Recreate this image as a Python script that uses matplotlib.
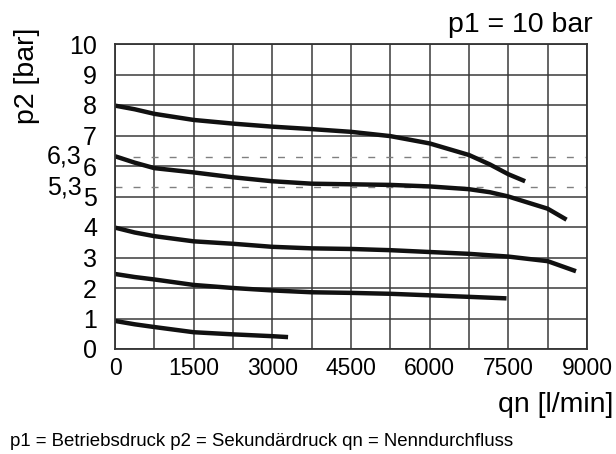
import matplotlib
matplotlib.use("Agg")
import matplotlib.pyplot as plt
from matplotlib import font_manager as fm

# Data: qn in l/min, p2 in bar
qn_8 = [0, 375, 750, 1500, 2250, 3000, 3750, 4500, 5250, 6000, 6750, 7150, 7500, 7820]
p_8 = [7.98, 7.86, 7.71, 7.51, 7.39, 7.29, 7.21, 7.12, 6.98, 6.74, 6.36, 6.05, 5.73, 5.5]

qn_63 = [0, 375, 750, 1500, 2250, 3000, 3750, 4500, 5250, 6000, 6750, 7150, 7500, 8250, 8610]
p_63 = [6.32, 6.11, 5.93, 5.79, 5.63, 5.5, 5.42, 5.4, 5.38, 5.33, 5.24, 5.14, 5.0, 4.6, 4.24]

qn_4 = [0, 375, 750, 1500, 2250, 3000, 3750, 4500, 5250, 6000, 6750, 7500, 8250, 8790]
p_4 = [3.98, 3.82, 3.7, 3.53, 3.45, 3.35, 3.3, 3.28, 3.24, 3.18, 3.12, 3.03, 2.88, 2.55]

qn_25 = [0, 375, 750, 1500, 2250, 3000, 3750, 4500, 5250, 6000, 6750, 7465]
p_25 = [2.46, 2.36, 2.28, 2.1, 2.0, 1.92, 1.86, 1.84, 1.81, 1.76, 1.71, 1.66]

qn_1 = [0, 375, 750, 1500, 2250, 3000, 3300]
p_1 = [0.92, 0.81, 0.72, 0.55, 0.48, 0.42, 0.39]

ref_levels = [6.3, 5.3]
ref_labels = ["6,3", "5,3"]

x_ticks = [0, 1500, 3000, 4500, 6000, 7500, 9000]
y_ticks = [0, 1, 2, 3, 4, 5, 6, 7, 8, 9, 10]

names = {f.name for f in fm.fontManager.ttflist}
regular = "Liberation Sans" if "Liberation Sans" in names else "DejaVu Sans"
plt.rcParams['font.family'] = [regular, 'DejaVu Sans']

fig = plt.figure(figsize=(6.16, 4.54), dpi=100)
ax = fig.add_axes([115/616, 1-349/454, 472/616, 305/454])

ax.set_xlim(0, 9000)
ax.set_ylim(0, 10)
ax.grid(True, color='#3a3a3a', linewidth=1.1)
ax.set_axisbelow(True)
for s in ax.spines.values():
    s.set_color('#333333')
    s.set_linewidth(1.3)
ax.tick_params(length=0)

ax.set_yticks(y_ticks)
ax.set_yticklabels([str(v) for v in y_ticks], fontsize=18)
ax.tick_params(axis='y', pad=13)

# grid every 750, labels every 1500
grid_x = [i * 750 for i in range(13)]
ax.set_xticks(grid_x)
ax.set_xticklabels([str(v) if v in x_ticks else "" for v in grid_x], fontsize=16.5)
ax.tick_params(axis='x', pad=6)

for lvl in ref_levels:
    ax.axhline(lvl, color='#808080', linewidth=1.0, linestyle=(0, (5, 8)), xmax=0.995)

for q, p in [(qn_8, p_8), (qn_63, p_63), (qn_4, p_4), (qn_25, p_25), (qn_1, p_1)]:
    ax.plot(q, p, color='#111111', linewidth=3.2, solid_capstyle='butt',
            solid_joinstyle='round')

for lvl, lab in zip(ref_levels, ref_labels):
    ax.annotate(lab, xy=(0, lvl), xycoords=('figure pixels', 'data'),
                xytext=(82, 0), textcoords=('figure pixels', 'offset points'),
                ha='right', va='center', fontsize=18)

fig.text(27/616, 1-76/454, "p2 [bar]", rotation=90, ha='center', va='center', fontsize=20.5)
fig.text(593/616, 1-25/454, "p1 = 10 bar", ha='right', va='center', fontsize=20.5)
fig.text(613/616, 1-405/454, "qn [l/min]", ha='right', va='center', fontsize=20.5)
fig.text(10/616, 1-441/454, "p1 = Betriebsdruck p2 = Sekundärdruck qn = Nenndurchfluss",
         ha='left', va='center', fontsize=13.4)

fig.savefig("out.png", dpi=100)
